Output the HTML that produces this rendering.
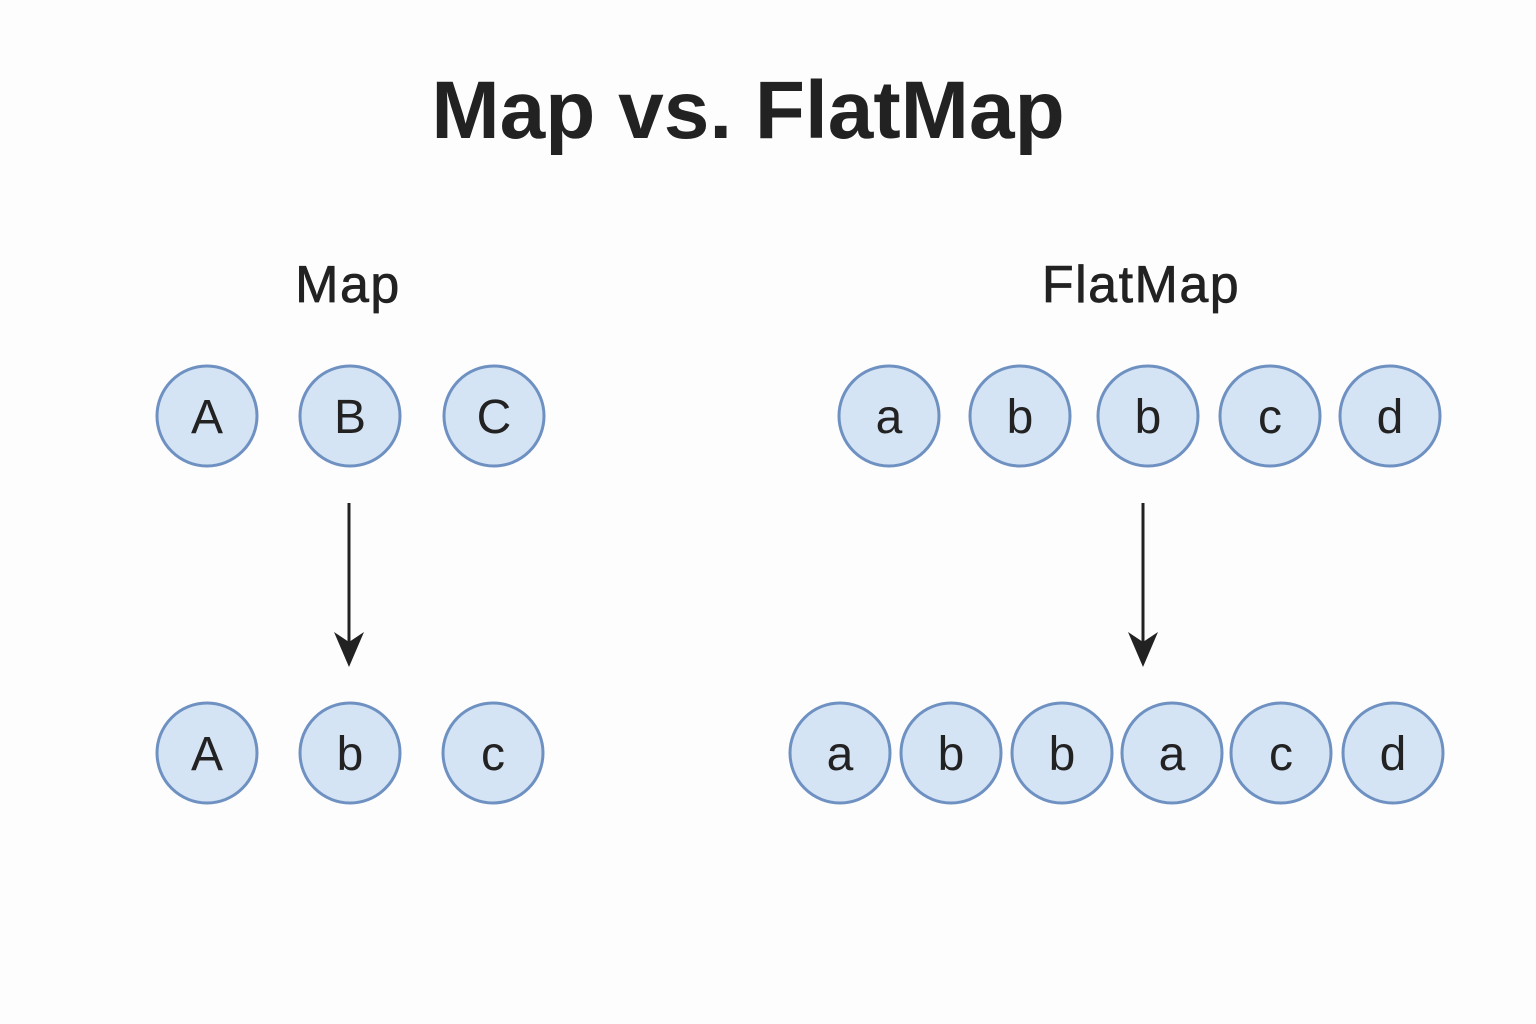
<!DOCTYPE html>
<html><head><meta charset="utf-8"><style>
html,body{margin:0;padding:0;background:#fdfdfd;}
svg{display:block;font-family:"Liberation Sans","DejaVu Sans",sans-serif;}
</style></head><body>
<svg id="diagram" width="1536" height="1024" viewBox="0 0 1536 1024">
<rect width="1536" height="1024" fill="#fdfdfd"/>
<text x="748" y="138" text-anchor="middle" font-size="82" font-weight="bold" fill="#222">Map vs. FlatMap</text>
<text x="348" y="302" text-anchor="middle" font-size="52" letter-spacing="1.5" stroke="#222" stroke-width="0.7" fill="#222">Map</text>
<text x="1141" y="302" text-anchor="middle" font-size="52" letter-spacing="1.5" stroke="#222" stroke-width="0.7" fill="#222">FlatMap</text>
<g id="nodes"></g>
<g id="arrows"></g>
</svg>
<script>
const mapTopLabels=["A","B","C"];
const mapTopX=[207,350,494];
const mapBottomLabels=["A","b","c"];
const mapBottomX=[207,350,493];
const flatTopLabels=["a","b","b","c","d"];
const flatTopX=[889,1020,1148,1270,1390];
const flatBottomLabels=["a","b","b","a","c","d"];
const flatBottomX=[840,951,1062,1172,1281,1393];
const NS="http://www.w3.org/2000/svg";
const nodes=document.getElementById('nodes');
function row(labels,xs,y,name){
  labels.forEach((l,i)=>{
    const g=document.createElementNS(NS,'g');
    
    
    const c=document.createElementNS(NS,'circle');
    c.setAttribute('cx',xs[i]);c.setAttribute('cy',y);c.setAttribute('r',50);
    c.setAttribute('fill','#d5e4f5');c.setAttribute('stroke','#6e91c2');c.setAttribute('stroke-width','3');
    
    
    const t=document.createElementNS(NS,'text');
    t.setAttribute('x',xs[i]);t.setAttribute('y',y+17);t.setAttribute('text-anchor','middle');
    t.setAttribute('font-size','48');t.setAttribute('fill','#222');
    t.textContent=l;
    
    
    g.appendChild(c);g.appendChild(t);nodes.appendChild(g);
  });
}
row(mapTopLabels,mapTopX,416,'map-input-node');
row(mapBottomLabels,mapBottomX,753,'map-output-node');
row(flatTopLabels,flatTopX,416,'flatmap-input-node');
row(flatBottomLabels,flatBottomX,753,'flatmap-output-node');
const arrows=document.getElementById('arrows');
[[349,'map-arrow'],[1143,'flatmap-arrow']].forEach(([x,n])=>{
  const g=document.createElementNS(NS,'g');
  
  
  const l=document.createElementNS(NS,'line');
  l.setAttribute('x1',x);l.setAttribute('x2',x);l.setAttribute('y1',503);l.setAttribute('y2',650);
  l.setAttribute('stroke','#222');l.setAttribute('stroke-width','3');
  const p=document.createElementNS(NS,'path');
  p.setAttribute('d',`M${x-15},632 L${x},667 L${x+15},632 L${x},642 Z`);
  p.setAttribute('fill','#222');
  g.appendChild(l);g.appendChild(p);arrows.appendChild(g);
});
</script>
</body></html>
